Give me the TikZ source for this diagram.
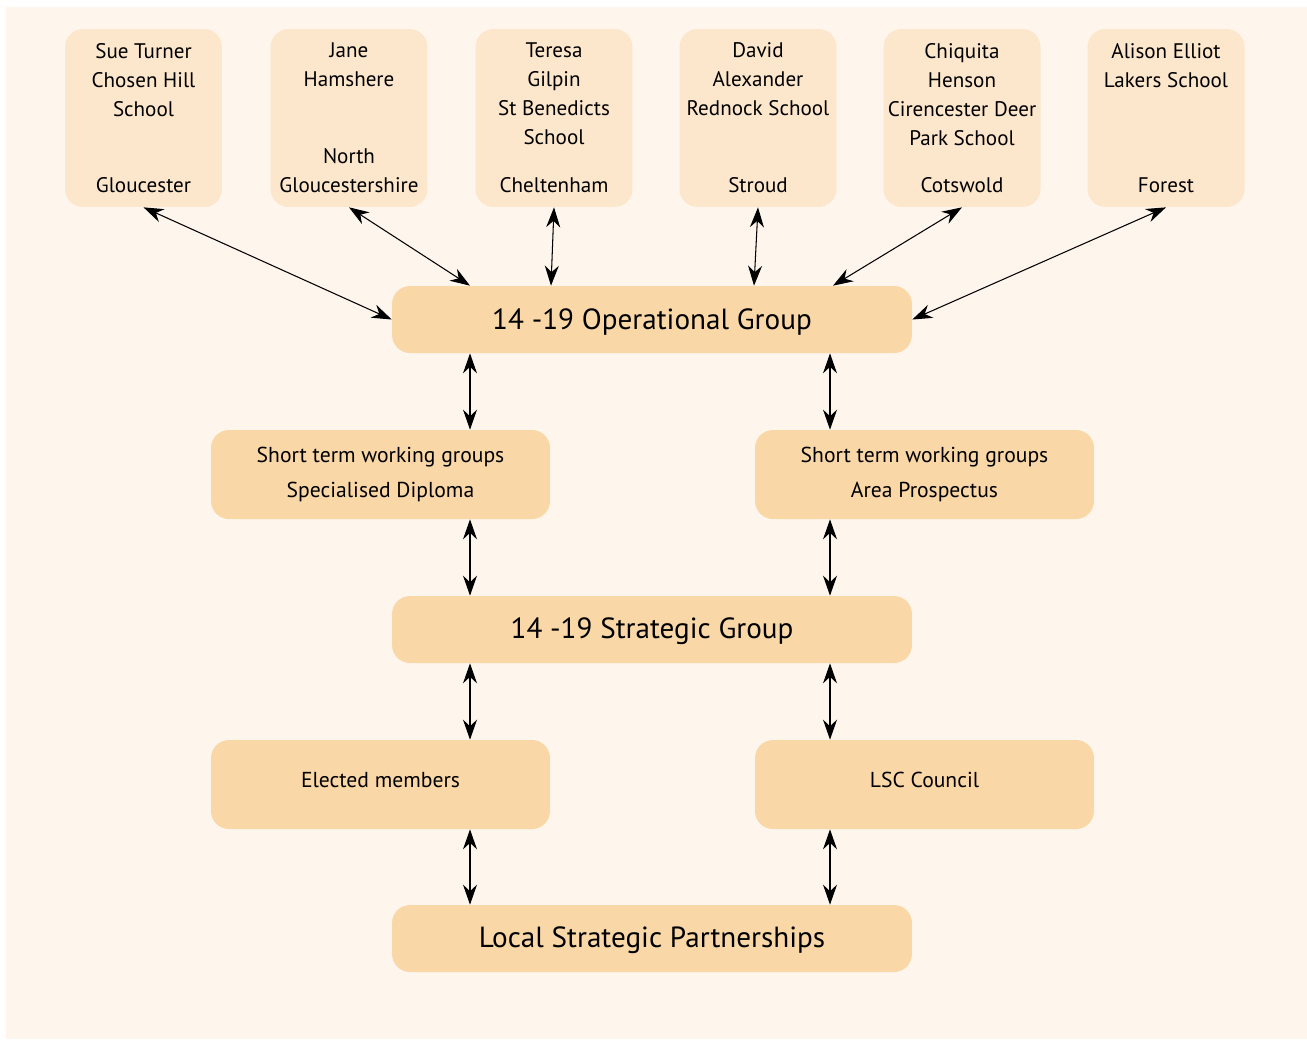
\documentclass[tikz,border=0pt]{standalone}
\usepackage{fontspec}
\setmainfont{PT Sans}
\usetikzlibrary{arrows.meta,positioning}
\definecolor{pagecream}{RGB}{254,245,236}
\definecolor{schoolfill}{RGB}{253,231,204}
\definecolor{groupfill}{RGB}{250,215,167}
\newcommand{\shiftdown}[2]{\raisebox{#1}[\height][\depth]{#2}}

\begin{document}
\begin{tikzpicture}[x=0.02cm,y=-0.02cm,
  school/.style={fill=schoolfill,rounded corners=0.36cm,
                 minimum width=3.14cm,minimum height=3.56cm,inner sep=0pt},
  stxt/.style={align=center,inner sep=0pt,
               font=\fontsize{12}{16.5}\selectfont},
  bigbox/.style={fill=groupfill,rounded corners=0.36cm,
                 minimum width=10.4cm,minimum height=1.34cm,inner sep=0pt,
                 font=\fontsize{16.6}{19}\selectfont},
  midbox/.style={fill=groupfill,rounded corners=0.36cm,align=center,
                 minimum width=6.78cm,minimum height=1.78cm,inner sep=0pt,
                 font=\fontsize{12.3}{19.5}\selectfont},
  dbl/.style={{Stealth[length=0.4cm,width=0.28cm]}-{Stealth[length=0.4cm,width=0.28cm]},
              line width=0.6pt,black}]
  % page
  \useasboundingbox (0,0) rectangle (1307,1039);
  \fill[pagecream] (6,7) rectangle (1307,1039);

  % school boxes
  \node[school] (gl) at (143.5,118) {};
  \node[school] (ng) at (349,118) {};
  \node[school] (ch) at (554,118) {};
  \node[school] (st) at (758,118) {};
  \node[school] (co) at (962,118) {};
  \node[school] (fo) at (1166,118) {};
  \node[stxt,anchor=north] (glname) at ([yshift=-0.28cm]gl.north) {Sue Turner\\Chosen Hill\\School};
  \node[stxt,anchor=north] (ngname) at ([yshift=-0.28cm]ng.north) {Jane\\Hamshere};
  \node[stxt,anchor=north] (chname) at ([yshift=-0.28cm]ch.north) {Teresa\\Gilpin\\St Benedicts\\School};
  \node[stxt,anchor=north] (stname) at ([yshift=-0.28cm]st.north) {David\\Alexander\\Rednock School};
  \node[stxt,anchor=north] (coname) at ([yshift=-0.28cm]co.north) {Chiquita\\Henson\\Cirencester Deer\\Park School};
  \node[stxt,anchor=north] (foname) at ([yshift=-0.28cm]fo.north) {Alison Elliot\\Lakers School};
  \node[stxt,anchor=base] (glarea) at ([yshift=0.3cm]gl.south) {Gloucester};
  \node[stxt,anchor=base] (ngarea) at ([yshift=0.3cm]ng.south) {North\\Gloucestershire};
  \node[stxt,anchor=base] (charea) at ([yshift=0.3cm]ch.south) {Cheltenham};
  \node[stxt,anchor=base] (starea) at ([yshift=0.3cm]st.south) {Stroud};
  \node[stxt,anchor=base] (coarea) at ([yshift=0.3cm]co.south) {Cotswold};
  \node[stxt,anchor=base] (foarea) at ([yshift=0.3cm]fo.south) {Forest};

  % groups
  \node[bigbox] (op) at (652,319.5) {\shiftdown{-1.5pt}{14 -19 Operational Group}};
  \node[midbox] (sd) at (380.5,474.5) {Short term working groups\\Specialised Diploma};
  \node[midbox] (ap) at (924.5,474.5) {Short term working groups\\Area Prospectus};
  \node[bigbox] (sg) at (652,629.5) {\shiftdown{-1.2pt}{14 -19 Strategic Group}};
  \node[midbox] (em) at (380.5,784.5) {\shiftdown{2.8pt}{Elected members}};
  \node[midbox] (lsc) at (924.5,784.5) {\shiftdown{2.8pt}{LSC Council}};
  \node[bigbox] (lsp) at (652,938.5) {\shiftdown{-1.2pt}{Local Strategic Partnerships}};

  % arrows
  \coordinate (lx) at (470,0);
  \coordinate (rx) at (830,0);
  \coordinate (chx) at (551,0);
  \coordinate (stx) at (754,0);
  \draw[dbl] (gl.south) -- (op.west);
  \draw[dbl] (ng.south) -- (op.north -| lx);
  \draw[dbl] (ch.south) -- (op.north -| chx);
  \draw[dbl] (st.south) -- (op.north -| stx);
  \draw[dbl] (co.south) -- ([xshift=0.06cm]op.north -| rx);
  \draw[dbl] (fo.south) -- (op.east);
  \draw[dbl] (op.south -| lx) -- (sd.north -| lx);
  \draw[dbl] (op.south -| rx) -- (ap.north -| rx);
  \draw[dbl] (sd.south -| lx) -- (sg.north -| lx);
  \draw[dbl] (ap.south -| rx) -- (sg.north -| rx);
  \draw[dbl] (sg.south -| lx) -- (em.north -| lx);
  \draw[dbl] (sg.south -| rx) -- (lsc.north -| rx);
  \draw[dbl] (em.south -| lx) -- (lsp.north -| lx);
  \draw[dbl] (lsc.south -| rx) -- (lsp.north -| rx);
\end{tikzpicture}
\end{document}
